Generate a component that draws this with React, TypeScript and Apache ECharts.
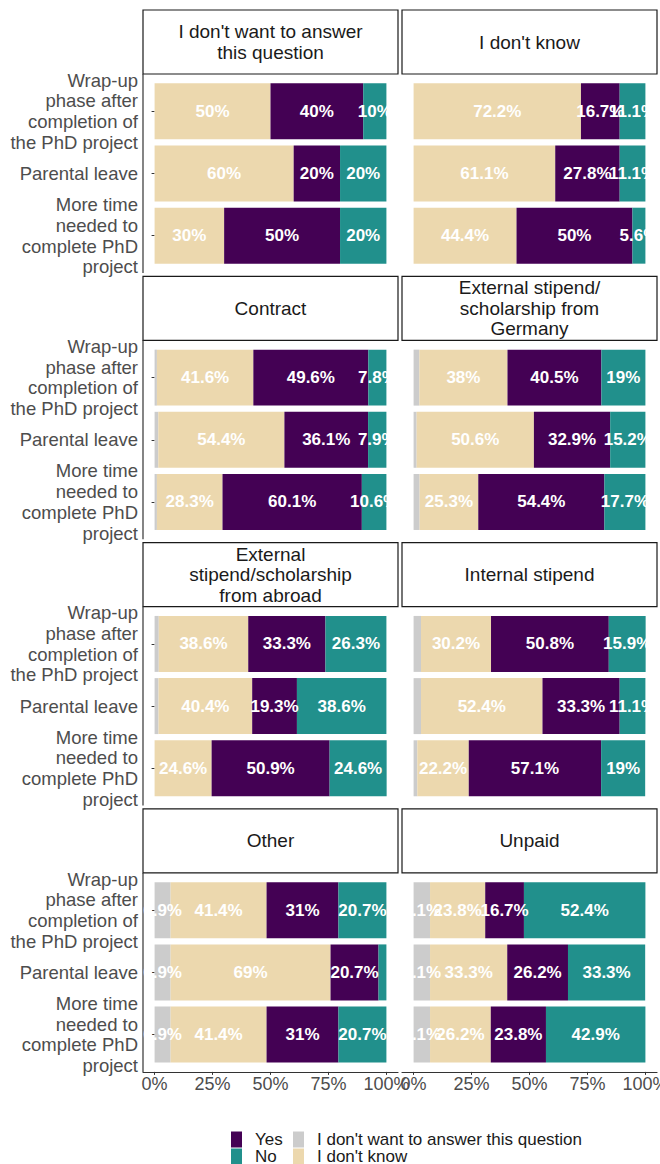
import React, { useEffect, useRef } from "react";
import * as echarts from "echarts";

const CATEGORIES = [
  "Wrap-up phase after completion of the PhD project",
  "Parental leave",
  "More time needed to complete PhD project",
];
const CATEGORY_LABELS = [
  "Wrap-up\nphase after\ncompletion of\nthe PhD project",
  "Parental leave",
  "More time\nneeded to\ncomplete PhD\nproject",
];
const FACETS = [
  "I don't want to answer this question",
  "I don't know",
  "Contract",
  "External stipend/scholarship from Germany",
  "External stipend/scholarship from abroad",
  "Internal stipend",
  "Other",
  "Unpaid",
];
const FACET_LABELS = [
  "I don't want to answer\nthis question",
  "I don't know",
  "Contract",
  "External stipend/\nscholarship from\nGermany",
  "External\nstipend/scholarship\nfrom abroad",
  "Internal stipend",
  "Other",
  "Unpaid",
];
const RESPONSES = ["I don't want to answer this question", "I don't know", "Yes", "No"];
const RESPONSE_COLORS = ["#CCCCCC", "#ECD8AE", "#440154", "#21908C"];

// values per facet: [Wrap-up, Parental leave, More time]
const NO_ANSWER = [
  [0, 0, 0],
  [0, 0, 0],
  [1.0, 1.6, 1.0],
  [2.5, 1.3, 2.6],
  [1.8, 1.7, 0],
  [3.2, 3.2, 1.6],
  [6.9, 6.9, 6.9],
  [7.1, 7.1, 7.1],
];
const DONT_KNOW = [
  [50, 60, 30],
  [72.2, 61.1, 44.4],
  [41.6, 54.4, 28.3],
  [38, 50.6, 25.3],
  [38.6, 40.4, 24.6],
  [30.2, 52.4, 22.2],
  [41.4, 69, 41.4],
  [23.8, 33.3, 26.2],
];
const YES = [
  [40, 20, 50],
  [16.7, 27.8, 50],
  [49.6, 36.1, 60.1],
  [40.5, 32.9, 54.4],
  [33.3, 19.3, 50.9],
  [50.8, 33.3, 57.1],
  [31, 20.7, 31],
  [16.7, 26.2, 23.8],
];
const NO = [
  [10, 20, 20],
  [11.1, 11.1, 5.6],
  [7.8, 7.9, 10.6],
  [19, 15.2, 17.7],
  [26.3, 38.6, 24.6],
  [15.9, 11.1, 19],
  [20.7, 3.4, 20.7],
  [52.4, 33.3, 42.9],
];
const X_TICKS = [0, 25, 50, 75, 100];

const FONT = "'Liberation Sans', Arial, sans-serif";

export default function App() {
  const ref = useRef<HTMLDivElement>(null);

  useEffect(() => {
    if (!ref.current) return;
    const chart = echarts.init(ref.current, null, { renderer: "svg" });

    const SERIES_DATA = [NO_ANSWER, DONT_KNOW, YES, NO];
    const colLeft = [143, 402];
    const panelW = 255;
    const stripH = 64;
    const panelH = 199;
    const firstStripTop = 10;
    const rowStep = 266.3;
    const unit = panelH / 3.2;

    const grids: any[] = [];
    const xAxes: any[] = [];
    const yAxes: any[] = [];
    const series: any[] = [];
    const graphics: any[] = [];

    FACETS.forEach((facet, i) => {
      const row = Math.floor(i / 2);
      const col = i % 2;
      const stripTop = firstStripTop + row * rowStep;
      const panelTop = stripTop + stripH;
      const left = colLeft[col];
      const isBottom = row === 3;

      grids.push({
        left,
        top: panelTop + 0.1 * unit,
        width: panelW,
        height: 3 * unit,
        containLabel: false,
        outerBoundsMode: "none",
      });
      xAxes.push({
        type: "value",
        gridIndex: i,
        min: -5,
        max: 105,
        show: isBottom,
        offset: 0.1 * unit,
        splitLine: { show: false },
        axisLine: { show: true, onZero: false, lineStyle: { color: "#333", width: 1.2 } },
        axisTick: {
          show: true,
          length: 3,
          customValues: X_TICKS,
          lineStyle: { color: "#333" },
        },
        axisLabel: {
          show: true,
          customValues: X_TICKS,
          formatter: (v: number) => `${v}%`,
          color: "#4D4D4D",
          fontSize: 18,
          fontFamily: FONT,
          margin: 3,
          hideOverlap: false,
        },
      });
      yAxes.push({
        type: "category",
        gridIndex: i,
        data: CATEGORIES,
        inverse: true,
        axisLine: { show: false },
        axisTick: {
          show: col === 0,
          length: 3,
          alignWithLabel: true,
          lineStyle: { color: "#333" },
        },
        axisLabel: {
          show: col === 0,
          formatter: (v: string) => CATEGORY_LABELS[CATEGORIES.indexOf(v)],
          color: "#4D4D4D",
          fontSize: 18.5,
          lineHeight: 20.7,
          fontFamily: FONT,
          align: "right",
          margin: 5,
        },
        splitLine: { show: false },
      });

      RESPONSES.forEach((resp, r) => {
        series.push({
          type: "bar",
          name: resp,
          xAxisIndex: i,
          yAxisIndex: i,
          stack: "facet" + i,
          barCategoryGap: "10%",
          data: SERIES_DATA[r][i],
          itemStyle: { color: RESPONSE_COLORS[r] },
          silent: true,
          label: {
            show: true,
            position: "inside",
            color: "#fff",
            fontWeight: "bold",
            fontSize: 17,
            fontFamily: FONT,
            formatter: (p: any) => (p.value >= 5 ? `${p.value}%` : ""),
          },
        });
      });

      // strip
      graphics.push({
        type: "rect",
        shape: { x: left, y: stripTop, width: panelW, height: stripH },
        style: { fill: "#fff", stroke: "#1A1A1A", lineWidth: 1.2 },
        silent: true,
      });
      graphics.push({
        type: "text",
        x: left + panelW / 2,
        y: stripTop + stripH / 2,
        style: {
          text: FACET_LABELS[i],
          fontSize: 19,
          fontFamily: FONT,
          fill: "#1A1A1A",
          align: "center",
          verticalAlign: "middle",
          lineHeight: 20.5,
        },
        silent: true,
      });
      // y axis line for left column
      if (col === 0) {
        graphics.push({
          type: "line",
          shape: { x1: left, y1: panelTop, x2: left, y2: panelTop + panelH },
          style: { stroke: "#333", lineWidth: 1.2 },
          silent: true,
        });
      }
    });

    const legendBase = {
      orient: "vertical",
      top: 1131,
      height: 60,
      itemWidth: 11,
      itemHeight: 16,
      itemGap: 0,
      icon: "rect",
      selectedMode: false,
      padding: 0,
      textStyle: {
        fontSize: 17,
        lineHeight: 16,
        fontFamily: FONT,
        color: "#1A1A1A",
        padding: [0, 0, 0, 8],
      },
    };

    chart.setOption({
      animation: false,
      backgroundColor: "#fff",
      grid: grids,
      xAxis: xAxes,
      yAxis: yAxes,
      series,
      graphic: graphics,
      legend: [
        { ...legendBase, data: ["Yes", "No"], left: 231 },
        { ...legendBase, data: ["I don't want to answer this question", "I don't know"], left: 293 },
      ],
    });

    return () => chart.dispose();
  }, []);

  return (
    <div
      ref={ref}
      style={{ position: "fixed", left: 0, top: 0, width: 660, height: 1164 }}
    />
  );
}
